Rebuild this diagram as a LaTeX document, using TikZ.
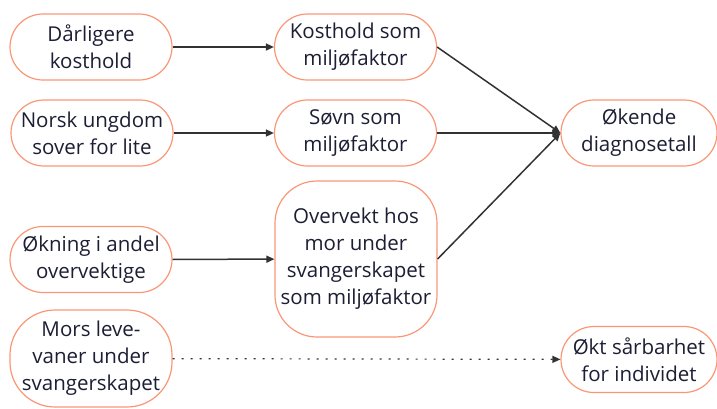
\documentclass[tikz,border=0pt]{standalone}
\usepackage{fontspec}
\setmainfont{Open Sans}
\usetikzlibrary{arrows.meta}
\definecolor{boxline}{RGB}{250,150,118}
\definecolor{txt}{RGB}{28,30,52}
\definecolor{arr}{RGB}{50,50,50}
\tikzset{
	pill/.style={draw=boxline,line width=1.2pt,rounded corners=33pt,minimum width=162pt,minimum height=66pt,inner sep=0pt,align=center,text=txt,font=\fontsize{20.5}{27}\selectfont},
	link/.style={draw=arr,line width=1.5pt,-{Triangle[length=8pt,width=7pt]}}
}
\begin{document}
	\begin{tikzpicture}[x=1pt,y=-1pt]
		\useasboundingbox (0,0) rectangle (717,408);
		% left column
		\node[pill] (dkost) at (91,47) {Dårligere\\kosthold};
		\node[pill] (sovlite) at (92,133) {Norsk ungdom\\sover for lite};
		\node[pill] (okvekt) at (91,259.5) {Økning i andel\\overvektige};
		\node[pill,rounded corners=45pt,minimum height=97pt] (mors) at (91,358.5) {Mors leve-\\vaner under\\svangerskapet};
		% middle column
		\node[pill] (kostmf) at (355.5,47) {Kosthold som\\miljøfaktor};
		\node[pill] (sovnmf) at (355.5,133) {Søvn som\\miljøfaktor};
		\node[pill,rounded corners=42pt,minimum height=156pt] (overmf) at (356,259) {Overvekt hos\\mor under\\svangerskapet\\som miljøfaktor};
		% right column
		\node[pill,minimum width=156pt] (okdiag) at (639,133) {Økende\\diagnosetall};
		\node[pill,minimum width=156pt] (sarbar) at (639,359.5) {Økt sårbarhet\\for individet};
		% connectors
		\foreach \a/\b in {dkost/kostmf, sovlite/sovnmf, okvekt/overmf}{
			\draw[link] (\a) -- (\b);
		}
		\foreach \a in {kostmf, sovnmf, overmf}{
			\draw[link] (\a.east) -- (okdiag.west);
		}
		\draw[link,line width=1.2pt,dash pattern=on 2pt off 7pt] (mors) -- (sarbar);
	\end{tikzpicture}
\end{document}
